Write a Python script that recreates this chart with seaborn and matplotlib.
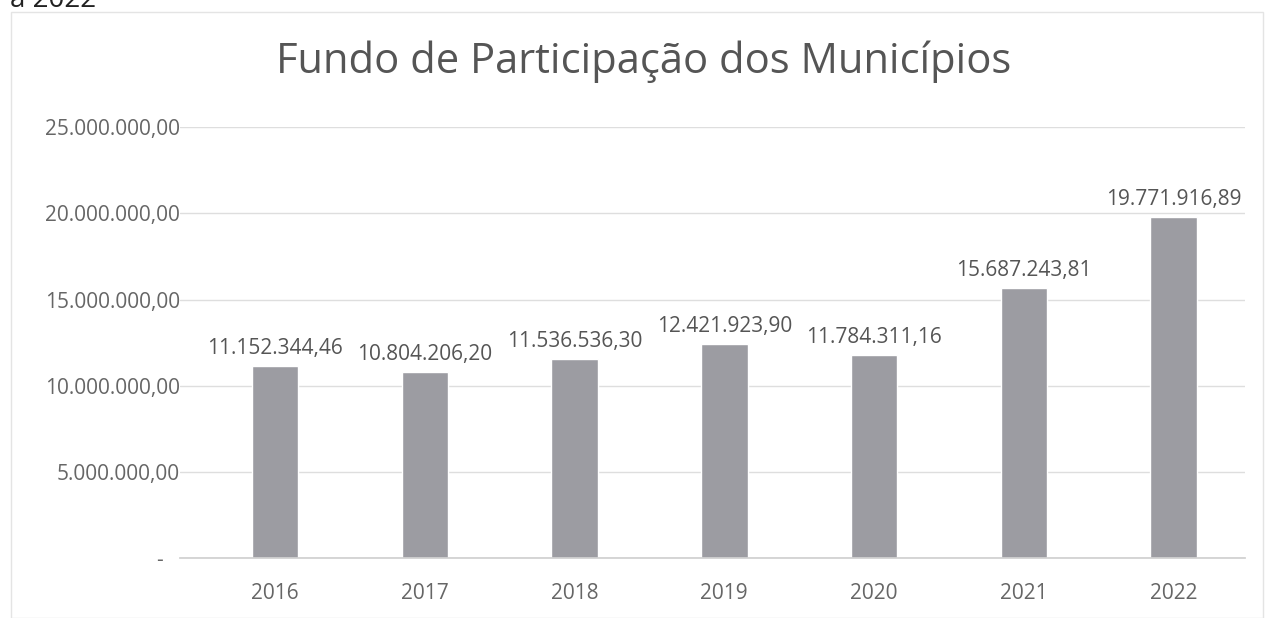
import numpy as np
import pandas as pd
import matplotlib
matplotlib.use("Agg")
import matplotlib.pyplot as plt
import seaborn as sns

years = ["2016", "2017", "2018", "2019", "2020", "2021", "2022"]
values = [11152344.46, 10804206.20, 11536536.30, 12421923.90,
          11784311.16, 15687243.81, 19771916.89]
y_ticks = [0, 5000000, 10000000, 15000000, 20000000, 25000000]


def br_format(v):
    # formato brasileiro: 11.152.344,46
    s = f"{v:,.2f}"
    return s.replace(",", "X").replace(".", ",").replace("X", ".")


df = pd.DataFrame({"ano": years, "valor": values})

sns.set_theme(style="white")
plt.rcParams["font.family"] = ["Open Sans", "DejaVu Sans"]

fig = plt.figure(figsize=(12.67, 6.18), dpi=100)
ax = fig.add_axes([0.142, 0.097, 0.841, 0.697])

sns.barplot(data=df, x="ano", y="valor", color="#9c9ca2", width=0.31,
            saturation=1, ax=ax)

ax.set_xlim(-0.635, 6.48)
ax.set_ylim(0, 25000000)
ax.set_yticks(y_ticks)
# zero no formato contábil do Excel: " -  "
ax.set_yticklabels(["-   " if t == 0 else br_format(t) for t in y_ticks],
                   fontsize=15, color="#666666")
ax.tick_params(axis="x", labelsize=15, labelcolor="#666666", pad=12)
ax.tick_params(axis="y", pad=0, length=0)
ax.set_xlabel("")
ax.set_ylabel("")
ax.yaxis.grid(True, color="#dedede", linewidth=1)
ax.set_axisbelow(True)
for side in ["top", "right", "left"]:
    ax.spines[side].set_visible(False)
ax.spines["bottom"].set_color("#d0d0d0")

for i, v in enumerate(values):
    ax.annotate(br_format(v), (i, v), xytext=(0, 5), textcoords="offset points",
                ha="center", va="bottom", fontsize=15, color="#555555")

fig.text(0.508, 0.882, "Fundo de Participação dos Municípios", ha="center",
         va="baseline", fontsize=30, color="#555555")
fig.text(0.008, 0.989, "a 2022", ha="left", va="baseline", fontsize=20,
         color="#222222")

# moldura leve do gráfico
border = plt.Rectangle((0.009, 0.0), 0.988, 0.981, transform=fig.transFigure,
                       fill=False, edgecolor="#e4e4e4", linewidth=1)
fig.patches.append(border)

fig.savefig("out.png", dpi=100)
